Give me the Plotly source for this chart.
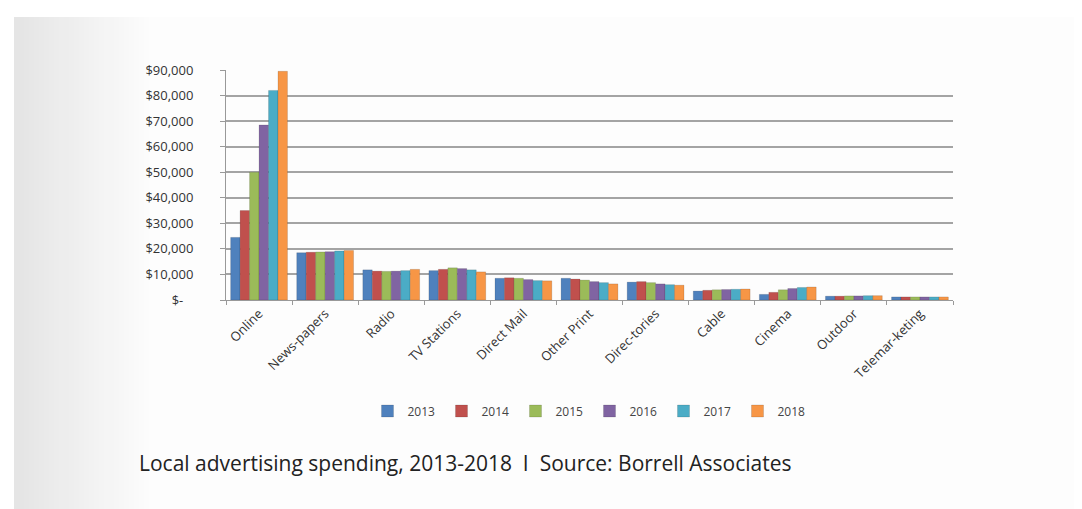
import plotly.graph_objects as go

categories = ["Online", "News-papers", "Radio", "TV Stations", "Direct Mail", "Other Print",
              "Direc-tories", "Cable", "Cinema", "Outdoor", "Telemar-keting"]
years = ["2013", "2014", "2015", "2016", "2017", "2018"]
colors = ["#4F81BD", "#C0504D", "#9BBB59", "#8064A2", "#4BACC6", "#F79646"]

v2013 = [24500, 18500, 11800, 11500, 8500, 8500, 7000, 3500, 2200, 1500, 1200]
v2014 = [35000, 18700, 11300, 12000, 8700, 8200, 7200, 3800, 3000, 1500, 1200]
v2015 = [50000, 18800, 11200, 12600, 8500, 7800, 6800, 4000, 4000, 1600, 1200]
v2016 = [68500, 18900, 11300, 12300, 8000, 7200, 6300, 4100, 4500, 1600, 1200]
v2017 = [82000, 19200, 11500, 11800, 7600, 6800, 6000, 4200, 4900, 1700, 1200]
v2018 = [89500, 19400, 12000, 11000, 7500, 6300, 5800, 4300, 5100, 1700, 1200]
series = [v2013, v2014, v2015, v2016, v2017, v2018]

y_ticks = [0, 10000, 20000, 30000, 40000, 50000, 60000, 70000, 80000, 90000]
y_labels = ["$-   ", "$10,000", "$20,000", "$30,000", "$40,000", "$50,000",
            "$60,000", "$70,000", "$80,000", "$90,000"]

W, H = 1082, 509
L, R, T, B = 218, 137, 62, 217
PW, PH = W - L - R, H - T - B


def px(x):
    return (x - L) / PW


def py(y):
    return (H - B - y) / PH


fig = go.Figure()
for yr, col, vals in zip(years, colors, series):
    fig.add_trace(go.Bar(x=categories, y=vals, name=yr,
                         marker=dict(color=col, line=dict(color="rgba(0,0,0,0.25)", width=0.5))))

# decorative soft background: gray on the left fading to white
shapes = []
n = 28
for i in range(n):
    x0 = 6 + i * 5
    g = int(0xe5 + (0xfd - 0xe5) * i / (n - 1))
    shapes.append(dict(type="rect", xref="paper", yref="paper",
                       x0=px(x0), x1=px(x0 + 5), y0=py(H), y1=py(9),
                       fillcolor="rgb(%d,%d,%d)" % (g, g, g), line=dict(width=0), layer="below"))
shapes.append(dict(type="rect", xref="paper", yref="paper",
                   x0=px(146), x1=px(W), y0=py(H), y1=py(9),
                   fillcolor="#fdfdfd", line=dict(width=0), layer="below"))

fig.update_layout(
    width=W, height=H,
    margin=dict(l=L, r=R, t=T, b=B),
    paper_bgcolor="#ffffff",
    plot_bgcolor="rgba(255,255,255,0)",
    barmode="group", bargap=0.14, bargroupgap=0,
    shapes=shapes,
    font=dict(family="Open Sans, DejaVu Sans", color="#333333"),
    xaxis=dict(tickangle=-45, tickfont=dict(size=13, color="#333333"),
               showline=True, linecolor="#999999", linewidth=1,
               ticks="outside", ticklen=4, tickcolor="#999999", tickson="boundaries",
               showgrid=False),
    yaxis=dict(range=[0, 90000], tickvals=y_ticks, ticktext=y_labels,
               tickfont=dict(size=13, color="#333333"),
               showgrid=True, gridcolor="#a4a4a4", gridwidth=2,
               showline=True, linecolor="#999999", linewidth=1,
               ticks="outside", ticklen=5, tickcolor="#999999", zeroline=False,
               ticklabelstandoff=24),
    legend=dict(orientation="h", x=0.5, xanchor="center", y=py(403), yanchor="middle",
                font=dict(size=12, color="#444444"), bgcolor="rgba(0,0,0,0)",
                entrywidth=29, entrywidthmode="pixels", tracegroupgap=0),
    annotations=[dict(text="Local advertising spending, 2013-2018  I  Source: Borrell Associates",
                      xref="paper", yref="paper", x=px(129), y=py(455), xanchor="left", yanchor="middle",
                      showarrow=False, font=dict(size=21, color="#222222", family="Open Sans, DejaVu Sans"))],
)

fig.write_html("out.html")
